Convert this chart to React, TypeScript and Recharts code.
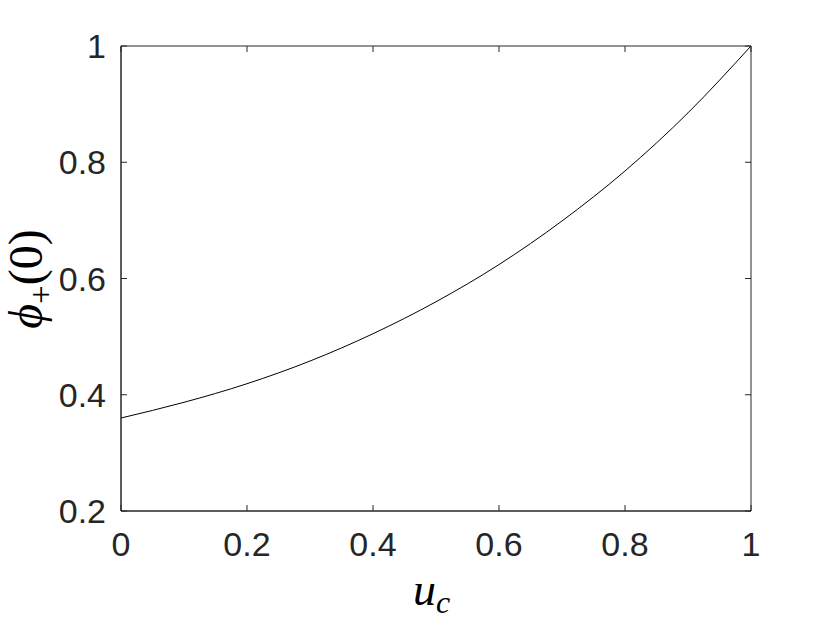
import { LineChart, Line, XAxis, YAxis, ReferenceArea } from "recharts"

// values
const uc = [0, 0.1, 0.2, 0.3, 0.4, 0.5, 0.6, 0.7, 0.8, 0.9, 1.0]
const phi = [0.36, 0.387, 0.419, 0.458, 0.505, 0.56, 0.624, 0.699, 0.785, 0.885, 1.0]
const xTicks = [0, 0.2, 0.4, 0.6, 0.8, 1]
const yTicks = [0.2, 0.4, 0.6, 0.8, 1]

const data = uc.map((u, i) => ({ u, phi: phi[i] }))

const W = 830
const H = 623
const TOP = 46
const LEFT = 121
const RIGHT = 751
const BOTTOM = 511
const TICK = 6
const AXIS = "#262626"
const FS = 34

const fmt = (v: number) => (v === 0 ? "0" : v === 1 ? "1" : v.toFixed(1))

function XTick(props: any) {
  const { x, payload } = props
  return (
    <g>
      <line x1={x} x2={x} y1={BOTTOM} y2={BOTTOM - TICK} stroke={AXIS} />
      <line x1={x} x2={x} y1={TOP} y2={TOP + TICK} stroke={AXIS} />
      <text x={x} y={BOTTOM + 45} textAnchor="middle" fontSize={FS} fill={AXIS}
        fontFamily="'Liberation Sans', Arial, sans-serif">{fmt(payload.value)}</text>
    </g>
  )
}

function YTick(props: any) {
  const { y, payload } = props
  return (
    <g>
      <line x1={LEFT} x2={LEFT + TICK} y1={y} y2={y} stroke={AXIS} />
      <line x1={RIGHT} x2={RIGHT - TICK} y1={y} y2={y} stroke={AXIS} />
      <text x={LEFT - 15} y={y + 12} textAnchor="end" fontSize={FS} fill={AXIS}
        fontFamily="'Liberation Sans', Arial, sans-serif">{fmt(payload.value)}</text>
    </g>
  )
}

export default function App() {
  return (
    <div style={{ position: "absolute", left: 0, top: 0, width: W, height: H, background: "#fff" }}>
      <LineChart width={W} height={H} data={data}
        margin={{ top: TOP, right: W - RIGHT, bottom: 52, left: 0 }}>
        <XAxis dataKey="u" type="number" domain={[0, 1]} ticks={xTicks} height={60}
          tickSize={0} tickMargin={0} tickLine={false} axisLine={{ stroke: AXIS }}
          tick={<XTick />} interval={0} />
        <YAxis type="number" domain={[0.2, 1]} ticks={yTicks} width={LEFT}
          tickSize={0} tickMargin={0} tickLine={false} axisLine={{ stroke: AXIS }}
          tick={<YTick />} interval={0} />
        <ReferenceArea x1={0} x2={1} y1={0.2} y2={1} fill="none" stroke={AXIS} strokeWidth={1} />
        <Line type="monotone" dataKey="phi" stroke="#000" strokeWidth={1} dot={false}
          isAnimationActive={false} />
      </LineChart>
      <svg width={W} height={H} style={{ position: "absolute", left: 0, top: 0, pointerEvents: "none" }}>
        <text x={413} y={605} fontSize={46} fontStyle="italic"
          fontFamily="'Liberation Serif', 'DejaVu Serif', serif" fill="#000">
          u<tspan fontSize={32} dy={8}>c</tspan>
        </text>
        <text transform="translate(42,279) rotate(-90)" textAnchor="middle" fontSize={48}
          fontFamily="'Liberation Serif', 'DejaVu Serif', serif" fill="#000">
          <tspan fontStyle="italic">ϕ</tspan>
          <tspan fontSize={33} dy={10}>+</tspan>
          <tspan dy={-10}>(0)</tspan>
        </text>
      </svg>
    </div>
  )
}
